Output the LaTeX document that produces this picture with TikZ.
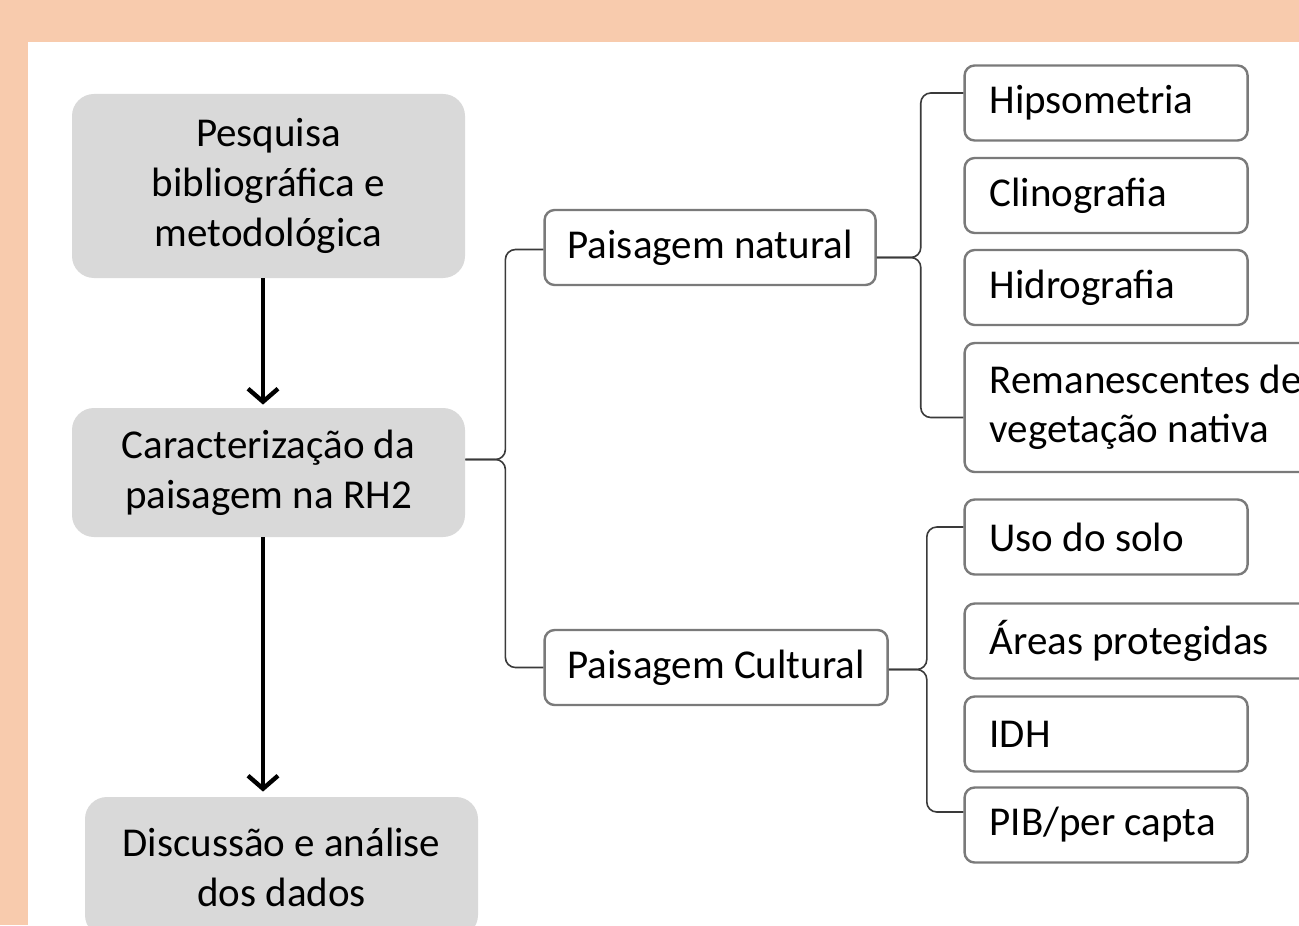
\documentclass[tikz,border=0pt]{standalone}
\usepackage{fontspec}
\setmainfont{Carlito}
\usetikzlibrary{arrows.meta,calc}
\definecolor{peach}{HTML}{F8CBAD}
\definecolor{boxgrey}{HTML}{D9D9D9}
\definecolor{edgegrey}{HTML}{7A7A7A}
\definecolor{linkgrey}{HTML}{3A3A3A}
\tikzset{
    stage/.style = {fill=boxgrey, rounded corners=11pt,
        minimum width=196.5pt, align=center,
        font=\fontsize{20.5}{25}\selectfont},
    branch/.style = {draw=edgegrey, line width=1.2pt, fill=white,
        rounded corners=5pt, minimum height=37.5pt, inner xsep=11.5pt,
        anchor=west, font=\fontsize{20.5}{24.5}\selectfont},
    leaf/.style = {branch, inner xsep=12.5pt, text width=116.5pt, align=left,
        execute at begin node={\spaceskip=0pt\xspaceskip=0pt\relax}},
    link/.style = {draw=linkgrey, line width=0.8pt, rounded corners=5pt},
    flow/.style = {draw, line width=2.2pt, -{Straight Barb[length=6.5pt,width=15pt]}}
}
\begin{document}
\begin{tikzpicture}[x=0.5pt, y=-0.5pt]
        \useasboundingbox (0,0) rectangle (1299,925);
        \clip (0,0) rectangle (1299,925);
        \fill[peach] (0,0) rectangle (1299,925);
        \fill[white] (28,42) rectangle (1299,925);
        % main column
        \node [stage, minimum height=92pt] (pesq) at (268.5,186) {Pesquisa\\bibliográfica e\\metodológica};
        \node [stage, minimum height=64.5pt, below of=pesq, node distance=143.25pt] (cara) {Caracterização da\\paisagem na RH2};
        \node [stage, minimum height=70pt, below of=cara, node distance=197.25pt, xshift=6.5pt] (disc) {Discussão e análise\\dos dados};
        \draw [flow] ([xshift=-2.75pt]pesq.south) -- ([xshift=-2.75pt,yshift=1.5pt]cara.north);
        \draw [flow] ([xshift=-2.75pt]cara.south) -- ([xshift=-2.75pt,yshift=2.5pt]cara.south |- disc.north);
        % branches
        \node [branch] (nat) at ([xshift=39pt,yshift=112.5pt]cara.east) {Paisagem natural};
        \node [branch] (cult) at ([xshift=39pt,yshift=-97.5pt]cara.east) {Paisagem Cultural};
        % leaves
        \node [leaf] (hips) at ([xshift=249pt,yshift=184.75pt]cara.east) {Hipsometria};
        \node [leaf] (clin) at ([yshift=-46.25pt]hips.west) {Clinografia};
        \node [leaf] (hidr) at ([yshift=-46pt]clin.west) {Hidrografia};
        \node [leaf, text width=160pt, minimum height=64.5pt] (rema) at ([yshift=-60pt]hidr.west) {Remanescentes de\\vegetação nativa};
        \node [leaf] (uso) at ([yshift=-64.75pt]rema.west) {Uso do solo};
        \node [leaf, text width=160pt] (areas) at ([yshift=-52pt]uso.west) {Áreas protegidas};
        \node [leaf] (idh) at ([yshift=-46.5pt]areas.west) {IDH};
        \node [leaf] (pib) at ([yshift=-45.5pt]idh.west) {PIB/per capta};
        % brackets
        \coordinate (j1) at ([xshift=20pt,yshift=6.5pt]cara.east);
        \coordinate (j2) at ([xshift=22pt,yshift=-5pt]nat.east);
        \coordinate (j3) at ([xshift=19pt,yshift=-1pt]cult.east);
        \foreach \kid/\dy in {nat/-1pt, cult/0pt}
            \draw [link] ([yshift=6.5pt]cara.east) -- (j1) |- ([yshift=\dy]\kid.west);
        \foreach \kid/\dy in {hips/5pt, rema/-5pt}
            \draw [link] ([yshift=-5pt]nat.east) -- (j2) |- ([yshift=\dy]\kid.west);
        \foreach \kid/\dy in {uso/5pt, pib/6.5pt}
            \draw [link] ([yshift=-1pt]cult.east) -- (j3) |- ([yshift=\dy]\kid.west);
\end{tikzpicture}
\end{document}
